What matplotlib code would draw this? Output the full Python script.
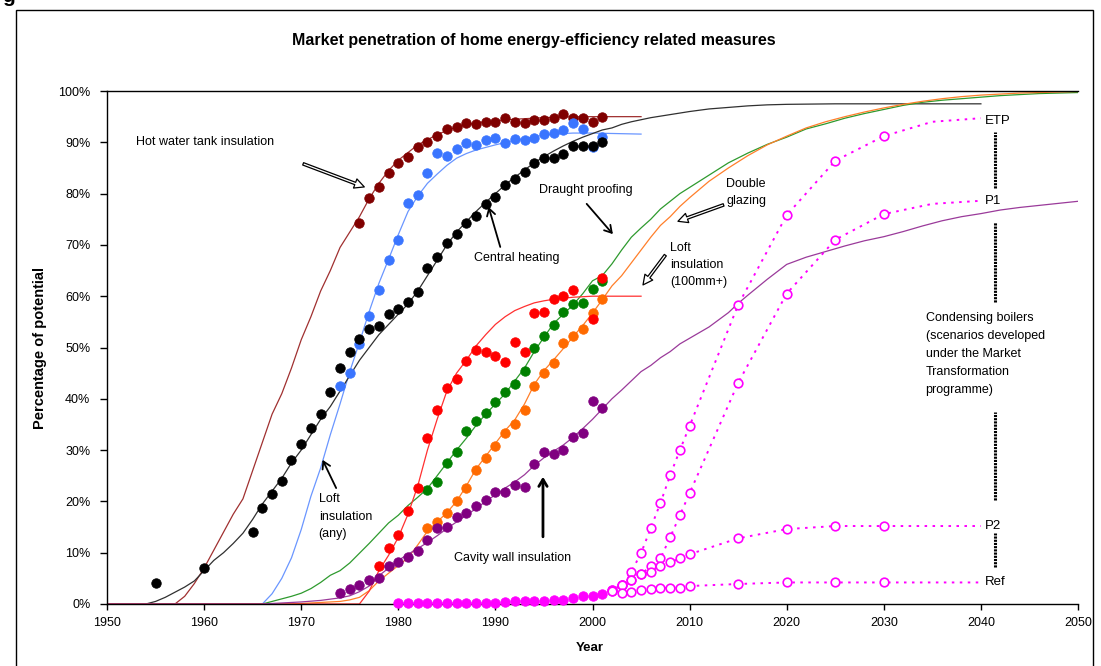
import matplotlib
matplotlib.use("Agg")
import matplotlib.pyplot as plt
from matplotlib.patches import Rectangle
from matplotlib.ticker import FuncFormatter, MultipleLocator

plt.rcParams['font.family'] = ['Liberation Sans', 'DejaVu Sans']

W, H = 1101, 666

# ---------------- surveyed market penetration (% of potential) ----------------
hot_water_years = list(range(1976, 2002))
hot_water_vals = [74.2, 79.2, 81.2, 84.1, 85.9, 87.2, 89.0, 90.1, 91.2, 92.5, 92.9, 93.8, 93.6,
                  93.9, 93.9, 94.7, 93.9, 93.8, 94.3, 94.3, 94.7, 95.6, 94.7, 94.7, 93.9, 94.9]

loft_any_years = list(range(1974, 2002))
loft_any_vals = [42.5, 45.0, 50.6, 56.2, 61.2, 67.1, 71.0, 78.1, 79.8, 84.0, 88.0, 87.3, 88.6, 89.8,
                 89.5, 90.4, 90.9, 89.8, 90.6, 90.4, 90.9, 91.6, 91.9, 92.4, 93.7, 92.5, 89.1, 91.0]

central_years = [1955, 1960] + list(range(1965, 2002))
central_vals = [4.0, 7.0, 14.1, 18.7, 21.4, 24.0, 28.0, 31.1, 34.3, 37.0, 41.3, 46.1, 49.2, 51.7, 53.7,
                54.1, 56.5, 57.6, 58.8, 60.8, 65.4, 67.7, 70.3, 72.1, 74.2, 75.6, 77.9, 79.4, 81.7,
                82.8, 84.3, 86.0, 86.9, 86.9, 87.7, 89.2, 89.2, 89.3, 90.1]

draught_years = list(range(1983, 2002))
draught_vals = [22.2, 23.7, 27.4, 29.7, 33.7, 35.6, 37.2, 39.3, 41.4, 42.8, 45.4, 49.9, 52.2, 54.4,
                56.9, 58.4, 58.7, 61.4, 63.0]

glazing_years = list(range(1983, 2002))
glazing_vals = [14.9, 16.0, 17.8, 20.0, 22.7, 26.1, 28.4, 30.8, 33.4, 35.0, 37.8, 42.5, 45.0, 47.0,
                50.9, 52.2, 53.7, 56.7, 59.4]

loft100_years = list(range(1978, 1999)) + [2000, 2001]
loft100_vals = [7.4, 11.0, 13.4, 18.1, 22.7, 32.3, 37.8, 42.2, 43.9, 47.3, 49.5, 49.2, 48.4, 47.1,
                51.0, 49.2, 56.7, 56.9, 59.4, 60.1, 61.2, 55.5, 63.5]

cavity_years = list(range(1974, 2002))
cavity_vals = [2.1, 2.9, 3.8, 4.7, 5.0, 7.4, 8.1, 9.2, 10.3, 12.5, 14.9, 15.1, 16.9, 17.8, 19.1, 20.2,
               21.8, 21.9, 23.1, 22.9, 27.3, 29.7, 29.2, 30.0, 32.5, 33.3, 39.6, 38.3]

boiler_years = list(range(1980, 2002))
boiler_vals = [0.1, 0.1, 0.1, 0.1, 0.1, 0.1, 0.1, 0.1, 0.1, 0.1, 0.2, 0.3, 0.5, 0.5, 0.5, 0.5,
               0.8, 0.8, 1.1, 1.6, 1.6, 2.0]

# ---------------- fitted / projected curves ----------------
hot_water_fit_years = [1950, 1957, 1958, 1959, 1960, 1961, 1962, 1963, 1964, 1965, 1966, 1967, 1968,
                       1969, 1970, 1971, 1972, 1973, 1974, 1975, 1976, 1977, 1978, 1979, 1980, 1981,
                       1982, 1983, 1984, 1985, 1986, 1987, 1988, 1989, 1990, 1992, 1994, 1996, 1998,
                       2000, 2005]
hot_water_fit = [0, 0, 1.5, 4, 7, 10.5, 14, 17.5, 20.5, 26, 31.5, 37, 41, 46, 51.5, 56, 61, 65, 69.5,
                 72.5, 75.5, 79, 82, 84.5, 86.5, 88, 89.5, 90.5, 91.5, 92.3, 93, 93.4, 93.8, 94, 94.2,
                 94.5, 94.7, 94.9, 95, 95, 95]

loft_any_fit_years = [1950, 1966, 1967, 1968, 1969, 1970, 1971, 1972, 1973, 1974, 1975, 1976, 1977,
                      1978, 1979, 1980, 1981, 1982, 1983, 1984, 1985, 1986, 1987, 1988, 1989, 1990,
                      1992, 1994, 1996, 1998, 2000, 2005]
loft_any_fit = [0, 0, 2, 5, 9, 14.5, 21, 26.5, 33, 39, 45.3, 51, 57, 62.5, 67.2, 72, 76.5, 79.5, 82,
                83.8, 85.5, 86.9, 87.8, 88.5, 89, 89.5, 90.4, 91.1, 91.6, 91.8, 91.8, 91.6]

central_fit_years = [1950, 1954, 1955, 1956, 1957, 1958, 1959, 1960, 1961, 1962, 1963, 1964, 1965,
                     1966, 1967, 1968, 1969, 1970, 1971, 1972, 1973, 1974, 1975, 1976, 1977, 1978,
                     1979, 1980, 1981, 1982, 1983, 1984, 1985, 1986, 1987, 1988, 1989, 1990, 1991,
                     1992, 1993, 1994, 1995, 1996, 1997, 1998, 1999, 2000, 2001, 2002, 2003, 2004,
                     2005, 2006, 2008, 2010, 2012, 2014, 2016, 2018, 2020, 2025, 2030, 2035, 2040]
central_fit = [0, 0, 0.5, 1.3, 2.3, 3.3, 4.5, 6.5, 8.5, 10, 11.8, 13.8, 16.5, 19.5, 22, 24.5, 27.5,
               30, 33, 36, 38.5, 41.5, 44.5, 47.5, 50, 52.5, 54.5, 56.5, 58.5, 61, 64, 67, 70, 72.5,
               74.5, 76.5, 78.3, 80, 81.7, 83.2, 84.6, 86, 87.2, 88.3, 89.3, 90.2, 91, 91.7, 92.4,
               92.8, 93.5, 94, 94.4, 94.8, 95.4, 96, 96.5, 96.8, 97.1, 97.3, 97.4, 97.5, 97.5, 97.5,
               97.5]

draught_fit_years = [1950, 1966, 1967, 1968, 1969, 1970, 1971, 1972, 1973, 1974, 1975, 1976, 1977,
                     1978, 1979, 1980, 1981, 1982, 1983, 1984, 1985, 1986, 1987, 1988, 1989, 1990,
                     1991, 1992, 1993, 1994, 1995, 1996, 1997, 1998, 1999, 2000, 2001, 2002, 2003,
                     2004, 2005, 2006, 2007, 2008, 2009, 2010, 2012, 2014, 2016, 2018, 2020, 2022,
                     2024, 2026, 2028, 2030, 2032, 2034, 2036, 2038, 2040, 2042, 2044, 2046, 2048,
                     2050]
draught_fit = [0, 0, 0.5, 1, 1.5, 2.1, 3, 4.2, 5.6, 6.5, 8, 9.9, 11.8, 13.8, 15.8, 17.3, 19.2, 20.8,
               22.5, 25, 27.5, 30, 32.3, 34.8, 37, 39, 41, 43.5, 46, 49.2, 52, 54.7, 56.5, 58.3,
               60.5, 63, 64, 66.3, 69, 71.5, 73.3, 75, 77, 78.5, 80, 81.2, 83.6, 86, 87.9, 89.6,
               91, 92.6, 93.6, 94.7, 95.6, 96.4, 97.2, 97.8, 98.2, 98.5, 98.8, 99.1, 99.3, 99.5,
               99.6, 99.7]

glazing_fit_years = [1950, 1969, 1972, 1974, 1975, 1976, 1977, 1978, 1979, 1980, 1981, 1982, 1983,
                     1984, 1985, 1986, 1987, 1988, 1989, 1990, 1991, 1992, 1993, 1994, 1995, 1996,
                     1997, 1998, 1999, 2000, 2001, 2002, 2003, 2004, 2005, 2006, 2007, 2008, 2009,
                     2010, 2012, 2014, 2016, 2018, 2020, 2022, 2024, 2026, 2028, 2030, 2032, 2034,
                     2036, 2038, 2040, 2042, 2044, 2046, 2048, 2050]
glazing_fit = [0, 0, 0.3, 0.5, 0.8, 1.3, 2.6, 4.5, 6, 7.5, 9, 11.5, 14.2, 16, 17.8, 20, 23, 26.3,
               28.8, 31.3, 33.8, 35.9, 39, 42.8, 45.5, 47.6, 49.8, 52.1, 54.3, 56.7, 59.3, 62, 64,
               66.5, 69, 71.5, 73.8, 75.5, 77.5, 79.2, 82.4, 85, 87.4, 89.5, 91.2, 92.8, 94, 95,
               95.9, 96.7, 97.4, 98, 98.5, 98.9, 99.2, 99.4, 99.6, 99.7, 99.8, 99.9]

loft100_fit_years = [1950, 1976, 1977, 1978, 1979, 1980, 1981, 1982, 1983, 1984, 1985, 1986, 1987,
                     1988, 1989, 1990, 1991, 1992, 1993, 1994, 1995, 1996, 1997, 1998, 1999, 2000,
                     2005]
loft100_fit = [0, 0, 2.5, 6.5, 9.5, 13, 17.5, 23, 30, 36, 41.5, 45, 47.5, 50.3, 52.5, 54.5, 56, 57.2,
               58, 58.7, 59.1, 59.4, 59.6, 59.8, 59.9, 60, 60]

cavity_fit_years = [1950, 1966, 1968, 1970, 1972, 1974, 1975, 1976, 1977, 1978, 1979, 1980, 1981,
                    1982, 1983, 1984, 1985, 1986, 1987, 1988, 1989, 1990, 1991, 1992, 1993, 1994,
                    1995, 1996, 1997, 1998, 1999, 2000, 2001, 2002, 2003, 2004, 2005, 2006, 2007,
                    2008, 2009, 2010, 2012, 2014, 2015, 2016, 2018, 2020, 2022, 2024, 2026, 2028,
                    2030, 2032, 2034, 2036, 2038, 2040, 2042, 2044, 2046, 2048, 2050]
cavity_fit = [0, 0, 0.2, 0.4, 0.7, 1.2, 1.6, 2.4, 3.5, 5.5, 7, 8.5, 9.7, 10.8, 12, 13.3, 14.7, 16,
              17.3, 18.6, 20, 21.3, 22.6, 23.8, 25.2, 27, 28.5, 29.8, 31, 32.5, 34.2, 36, 38, 40,
              41.7, 43.5, 45.3, 46.5, 48, 49.2, 50.7, 51.8, 54, 56.8, 58.6, 60.2, 63.3, 66.2, 67.6,
              68.7, 69.8, 70.8, 71.6, 72.6, 73.7, 74.7, 75.5, 76.1, 76.8, 77.3, 77.7, 78.1, 78.5]

# ---------------- condensing boiler scenarios ----------------
scenario_years = [2002, 2003, 2004, 2005, 2006, 2007, 2008, 2009, 2010, 2015, 2020, 2025, 2030]
scenario_tail_years = [2035, 2040]
etp_vals = [2.7, 3.7, 6.3, 9.9, 14.8, 19.7, 25.1, 30.0, 34.7, 58.3, 75.8, 86.4, 91.2]
etp_tail = [94.0, 94.7]
p1_vals = [2.7, 3.7, 4.7, 5.8, 7.4, 8.9, 13.0, 17.3, 21.6, 43.1, 60.5, 71.0, 76.0]
p1_tail = [78.0, 78.6]
p2_vals = [2.6, 3.7, 4.7, 5.8, 6.3, 7.4, 8.1, 8.9, 9.7, 12.8, 14.6, 15.2, 15.2]
p2_tail = [15.2, 15.2]
ref_vals = [2.6, 2.2, 2.4, 2.7, 2.9, 3.1, 3.2, 3.2, 3.5, 3.9, 4.2, 4.2, 4.2]
ref_tail = [4.2, 4.2]
scenario_names = ["ETP", "P1", "P2", "Ref"]

# ---------------- figure ----------------
fig = plt.figure(figsize=(W / 100, H / 100), dpi=100)
ax = fig.add_axes([107 / W, 1 - 604 / H, 971 / W, 513 / H])
ax.set_xlim(1950, 2050)
ax.set_ylim(0, 100)

MS = 6.8
fit_lw = 0.9
series = [
    (hot_water_fit_years, hot_water_fit, hot_water_years, hot_water_vals, '#A03030', '#800000'),
    (loft_any_fit_years, loft_any_fit, loft_any_years, loft_any_vals, '#6A96FF', '#3A75FF'),
    (central_fit_years, central_fit, central_years, central_vals, '#303030', '#000000'),
    (draught_fit_years, draught_fit, draught_years, draught_vals, '#2E9A2E', '#008000'),
    (glazing_fit_years, glazing_fit, glazing_years, glazing_vals, '#FF7F2A', '#FF6A00'),
    (loft100_fit_years, loft100_fit, loft100_years, loft100_vals, '#FF3030', '#FF0000'),
    (cavity_fit_years, cavity_fit, cavity_years, cavity_vals, '#9A3A9A', '#800080'),
]
for fy, fv, py, pv, lc, mc in series:
    ax.plot(fy, fv, color=lc, lw=fit_lw, zorder=2)
for fy, fv, py, pv, lc, mc in series:
    ax.plot(py, pv, linestyle='none', marker='o', ms=MS, mfc=mc, mec=mc, mew=0.6, zorder=4)

# condensing boilers: history and scenarios
ax.plot(boiler_years, boiler_vals, linestyle='none', marker='o', ms=MS, mfc='#FF00FF',
        mec='#FF00FF', mew=0.6, zorder=4, clip_on=False)
for vals, tail in [(etp_vals, etp_tail), (p1_vals, p1_tail), (p2_vals, p2_tail), (ref_vals, ref_tail)]:
    ax.plot([boiler_years[-1]] + scenario_years + scenario_tail_years,
            [boiler_vals[-1]] + vals + tail,
            color='#FF00FF', lw=1.4, linestyle=(0, (1.3, 2.8)), zorder=3)
    ax.plot(scenario_years, vals, linestyle='none', marker='o', ms=6.2, mfc='white',
            mec='#FF00FF', mew=1.2, zorder=5)

# scenario labels and bracket marks
for name, tail in zip(scenario_names, [etp_tail, p1_tail, p2_tail, ref_tail]):
    ax.text(2040.4, tail[-1] - 0.6 if name == "ETP" else tail[-1], name, fontsize=9.5,
            ha='left', va='center', zorder=6)
for y0, y1 in [(81.0, 92.1), (58.9, 74.5), (20.3, 37.5), (7.3, 13.8)]:
    ax.plot([2041.5, 2041.5], [y0, y1], color='black', lw=2.2,
            linestyle=(0, (0.7, 0.35)), solid_capstyle='butt', zorder=6)

ax.text(2034.3, 48.7, "Condensing boilers\n(scenarios developed\nunder the Market\nTransformation\nprogramme)",
        fontsize=9, ha='left', va='center', linespacing=1.65)

# ---------------- annotations ----------------
hollow = dict(arrowstyle='simple,head_length=0.7,head_width=0.7,tail_width=0.18',
              fc='white', ec='black', lw=0.9, shrinkA=0, shrinkB=0)
plain = dict(arrowstyle='->,head_length=0.5,head_width=0.3', color='black', lw=1.3,
             shrinkA=0, shrinkB=0)

ax.text(1953.0, 90.1, "Hot water tank insulation", fontsize=9, ha='left', va='center')
ax.annotate('', xy=(1976.5, 81.3), xytext=(1970.2, 85.8), arrowprops=hollow)

ax.text(1992.2, 67.5, "Central heating", fontsize=9, ha='center', va='center')
ax.annotate('', xy=(1989.3, 77.4), xytext=(1990.5, 69.6), arrowprops=plain)

ax.text(1999.3, 80.7, "Draught proofing", fontsize=9, ha='center', va='center')
ax.annotate('', xy=(2002.1, 72.1), xytext=(1999.4, 78.0), arrowprops=plain)

ax.text(2013.8, 80.2, "Double\nglazing", fontsize=9, ha='left', va='center', linespacing=1.6)
ax.annotate('', xy=(2008.8, 74.6), xytext=(2013.5, 77.8), arrowprops=hollow)

ax.text(2008.0, 66.1, "Loft\ninsulation\n(100mm+)", fontsize=9, ha='left', va='center', linespacing=1.6)
ax.annotate('', xy=(2005.2, 62.2), xytext=(2007.5, 68.0), arrowprops=hollow)

ax.text(1971.8, 17.0, "Loft\ninsulation\n(any)", fontsize=9, ha='left', va='center', linespacing=1.6)
ax.annotate('', xy=(1972.2, 28.1), xytext=(1973.6, 22.6), arrowprops=plain)

ax.text(1991.8, 9.0, "Cavity wall insulation", fontsize=9, ha='center', va='center')
ax.annotate('', xy=(1994.9, 24.8), xytext=(1994.9, 13.1),
            arrowprops=dict(arrowstyle='->,head_length=0.5,head_width=0.3', color='black',
                            lw=2.0, shrinkA=0, shrinkB=0))

# ---------------- axes styling ----------------
ax.xaxis.set_major_locator(MultipleLocator(10))
ax.yaxis.set_major_locator(MultipleLocator(10))
ax.yaxis.set_major_formatter(FuncFormatter(lambda v, p: f"{v:.0f}%"))
ax.tick_params(axis='y', direction='out', length=5, width=1, labelsize=9, pad=7)
ax.tick_params(axis='x', direction='out', length=4, width=1, labelsize=9, pad=5)
ax.spines['right'].set_visible(False)
for s in ['left', 'bottom', 'top']:
    ax.spines[s].set_linewidth(1.0)
    ax.spines[s].set_color('black')

fig.text(534 / W, 1 - 40 / H, "Market penetration of home energy-efficiency related measures",
         ha='center', va='center', fontsize=11.5, fontweight='bold')
fig.text(40 / W, 1 - 348 / H, "Percentage of potential", rotation=90, ha='center', va='center',
         fontsize=10.5, fontweight='bold')
fig.text(590 / W, 1 - 648 / H, "Year", ha='center', va='center', fontsize=9.5, fontweight='bold')
fig.text(2 / W, 1 - 2 / H, "g", ha='left', va='baseline', fontsize=15, fontweight='bold')

fig.patches.append(Rectangle((16 / W, -0.05), (1093 - 16) / W, 1 - 10 / H + 0.05,
                             transform=fig.transFigure, fill=False, ec='black', lw=1.0))

fig.savefig("out.png", dpi=100)
